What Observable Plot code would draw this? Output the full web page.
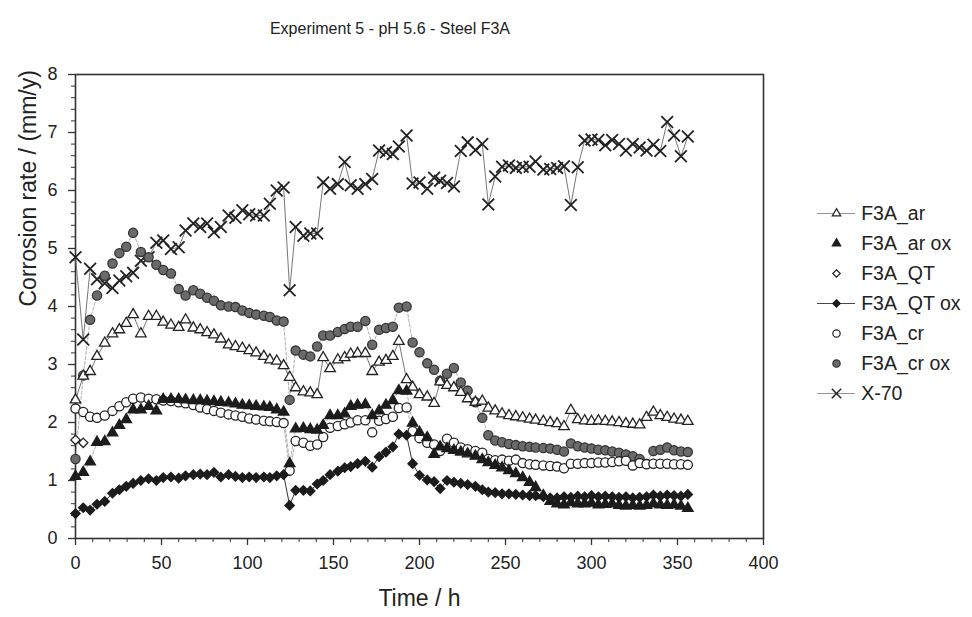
<!DOCTYPE html>
<html>
<head>
<meta charset="utf-8">
<script src="https://cdn.jsdelivr.net/npm/d3@7"></script>
<script src="https://cdn.jsdelivr.net/npm/@observablehq/plot@0.6"></script>
<style>
  body { margin: 0; background: #fff; }
  #wrap { position: relative; width: 972px; height: 617px; font-family: "Liberation Sans", Arial, Helvetica, sans-serif; color: #222; background: #fff; }
  #title { height: 50px; width: 780px; text-align: center; font-size: 16px; line-height: 57px; }
  #legend { position: absolute; left: 805px; top: 198px; }
</style>
</head>
<body>
<div id="wrap">
  <div id="title">Experiment 5 - pH 5.6 - Steel F3A</div>
  <div id="chart"></div>
  <div id="legend"></div>
</div>
<script>
// ---- data ----
const seriesNames = ["F3A_ar", "F3A_ar ox", "F3A_QT", "F3A_QT ox", "F3A_cr", "F3A_cr ox", "X-70"];

const timeH = [0,4.5,8.5,12.5,17,21.5,25.5,29.5,33.5,38,42.5,47,51,55.5,60,64,68.5,72.5,76.5,80.5,
  84.5,89,93,97,101,105,109.5,113,117,121,124.5,128,132.5,136.5,140.5,144,148,152.5,156.5,160,
  164,168.5,172.5,176.5,180.5,184.5,188,192.5,196,200,204.5,208.5,212,216,220,224,228,232.5,236.5,240,
  244,248,252,256,260,264,267.5,272,276,280,284,288,292,296,300,304,308,312,316,320,
  324,328,332,336,340,344,348,352,356];

const x70 = [4.85,3.43,4.65,4.47,4.40,4.32,4.45,4.52,4.58,4.79,
  4.85,5.10,5.14,4.99,5.02,5.31,5.43,5.37,5.43,5.28,
  5.37,5.57,5.53,5.66,5.59,5.57,5.57,5.77,6.00,6.05,
  4.28,5.37,5.22,5.26,5.26,6.14,6.03,6.11,6.49,6.09,
  6.03,6.11,6.20,6.69,6.66,6.63,6.76,6.95,6.12,6.14,
  6.03,6.22,6.17,6.13,6.07,6.68,6.83,6.70,6.80,5.76,
  6.24,6.41,6.43,6.39,6.41,6.41,6.50,6.36,6.37,6.39,
  6.42,5.75,6.40,6.86,6.88,6.87,6.78,6.87,6.80,6.69,
  6.80,6.74,6.69,6.79,6.68,7.18,6.95,6.59,6.93];

const f3aAr = [2.39,2.80,2.88,3.14,3.37,3.53,3.60,3.71,3.86,3.53,
  3.83,3.83,3.73,3.68,3.64,3.77,3.63,3.60,3.55,3.51,
  3.44,3.34,3.31,3.28,3.24,3.20,3.14,3.08,3.06,2.98,
  2.78,2.60,2.53,2.51,2.48,3.12,2.93,3.08,3.12,3.18,
  3.19,3.19,2.88,3.04,3.07,3.14,3.40,2.74,2.61,2.48,
  2.44,2.33,2.70,2.64,2.60,2.52,2.41,2.35,2.37,2.25,
  2.20,2.15,2.12,2.10,2.08,2.06,2.04,2.02,2.00,1.98,
  1.93,2.21,2.05,2.03,2.02,2.03,2.02,2.01,2.00,1.98,
  1.97,1.96,2.09,2.18,2.12,2.09,2.06,2.04,2.02];

const f3aArOx = [1.07,1.14,1.32,1.66,1.67,1.82,1.95,2.05,2.22,2.22,
  2.28,2.20,2.40,2.40,2.40,2.39,2.38,2.38,2.37,2.36,
  2.35,2.34,2.32,2.30,2.29,2.28,2.27,2.26,2.22,2.18,
  1.29,1.89,1.90,1.88,1.87,1.95,2.12,2.12,2.15,2.28,
  2.30,2.31,2.12,2.20,2.30,2.38,2.55,2.54,1.99,1.83,
  1.74,1.45,1.58,1.55,1.52,1.49,1.46,1.42,1.36,1.31,
  1.26,1.22,1.17,1.12,1.05,0.97,0.88,0.74,0.64,0.60,
  0.58,0.62,0.60,0.60,0.61,0.58,0.59,0.60,0.57,0.56,
  0.57,0.56,0.57,0.60,0.58,0.57,0.58,0.56,0.52];

const f3aQtTime = [0, 4.5];
const f3aQt = [1.70, 1.65];

const f3aQtOx = [0.43,0.53,0.49,0.59,0.64,0.78,0.84,0.90,0.95,1.00,
  1.03,1.00,1.05,1.06,1.04,1.08,1.10,1.11,1.10,1.14,
  1.06,1.10,1.07,1.05,1.06,1.05,1.06,1.05,1.08,1.10,
  0.57,0.83,0.83,0.82,0.94,1.00,1.10,1.16,1.22,1.24,
  1.29,1.33,1.23,1.41,1.49,1.58,1.80,1.78,1.29,1.09,
  1.01,0.98,0.86,1.00,0.97,0.95,0.93,0.90,0.84,0.80,
  0.79,0.77,0.77,0.76,0.75,0.74,0.74,0.72,0.70,0.70,
  0.72,0.71,0.73,0.72,0.74,0.72,0.73,0.72,0.71,0.72,
  0.70,0.71,0.72,0.75,0.73,0.75,0.74,0.73,0.76];

const f3aCr = [2.24,2.18,2.10,2.08,2.12,2.20,2.28,2.35,2.41,2.43,
  2.41,2.40,2.38,2.37,2.35,2.33,2.30,2.26,2.23,2.20,
  2.17,2.14,2.12,2.10,2.07,2.05,2.03,2.02,2.01,1.99,
  1.17,1.68,1.65,1.60,1.62,1.75,1.91,1.94,1.97,2.00,
  2.04,2.04,1.83,2.03,2.06,2.10,2.25,2.26,1.85,1.73,
  1.65,1.62,1.51,1.72,1.65,1.57,1.54,1.51,1.48,1.37,
  1.35,1.36,1.34,1.36,1.30,1.28,1.27,1.26,1.25,1.24,
  1.21,1.29,1.29,1.30,1.30,1.31,1.31,1.32,1.33,1.34,
  1.26,1.30,1.28,1.29,1.29,1.29,1.28,1.28,1.27];

const f3aCrOx = [1.37,2.81,3.77,4.19,4.53,4.74,4.92,5.03,5.27,4.94,
  4.85,4.72,4.63,4.57,4.30,4.19,4.28,4.22,4.15,4.10,
  4.02,4.00,3.99,3.93,3.89,3.86,3.84,3.82,3.76,3.74,
  2.39,3.24,3.17,3.14,3.31,3.50,3.50,3.56,3.61,3.65,
  3.65,3.75,3.34,3.60,3.63,3.65,3.98,4.00,3.38,3.21,
  3.02,2.91,2.72,2.84,2.94,2.69,2.55,2.35,2.08,1.78,
  1.69,1.66,1.63,1.61,1.59,1.58,1.57,1.56,1.55,1.53,
  1.50,1.64,1.59,1.57,1.55,1.53,1.52,1.50,1.48,1.45,
  1.42,1.37,1.29,1.51,1.53,1.57,1.52,1.50,1.49];

const xMajorTicks = [0, 50, 100, 150, 200, 250, 300, 350, 400];
const xMinorTicks = [10,20,30,40,60,70,80,90,110,120,130,140,160,170,180,190,210,220,230,240,
  260,270,280,290,310,320,330,340,360,370,380,390];
const yMajorTicks = [0, 1, 2, 3, 4, 5, 6, 7, 8];
const yMinorTicks = [0.2,0.4,0.6,0.8,1.2,1.4,1.6,1.8,2.2,2.4,2.6,2.8,3.2,3.4,3.6,3.8,
  4.2,4.4,4.6,4.8,5.2,5.4,5.6,5.8,6.2,6.4,6.6,6.8,7.2,7.4,7.6,7.8];

// ---- tables ----
const table = (times, vals) => times.map((t, i) => ({t, v: vals[i]}));
const dX70 = table(timeH, x70);
const dAr = table(timeH, f3aAr);
const dArOx = table(timeH, f3aArOx);
const dQt = table(f3aQtTime, f3aQt);
const dQtOx = table(timeH, f3aQtOx);
const dCr = table(timeH, f3aCr);
const dCrOx = table(timeH, f3aCrOx);

const ink = "#222";
const styles = {
  "F3A_ar":    {symbol: "triangle", fill: "#fff", stroke: ink, r: 3.9, line: "solid"},
  "F3A_ar ox": {symbol: "triangle", fill: "#1c1c1c", stroke: "#1c1c1c", r: 3.9, line: null},
  "F3A_QT":    {symbol: "diamond2", fill: "#fff", stroke: ink, r: 4.2, line: null},
  "F3A_QT ox": {symbol: "diamond2", fill: "#1c1c1c", stroke: "#1c1c1c", r: 4.2, line: "solid"},
  "F3A_cr":    {symbol: "circle", fill: "#fff", stroke: ink, r: 4.6, line: null},
  "F3A_cr ox": {symbol: "circle", fill: "#6a6a6a", stroke: "#333", r: 4.6, line: null},
  "X-70":      {symbol: "times", fill: "none", stroke: ink, r: 5.4, line: "solid"}
};
const dot = (data, name) => Plot.dot(data, {x: "t", y: "v", symbol: styles[name].symbol, r: styles[name].r,
  fill: styles[name].fill, stroke: styles[name].stroke, strokeWidth: name === "X-70" ? 1.8 : 1.3});

const chart = Plot.plot({
  width: 972, height: 567,
  marginTop: 24, marginBottom: 79, marginLeft: 75, marginRight: 209,
  style: {fontFamily: "'Liberation Sans', Arial, Helvetica, sans-serif", color: "#222", background: "#fff"},
  x: {domain: [0, 400]},
  y: {domain: [0, 8]},
  marks: [
    Plot.axisX({ticks: xMinorTicks, tickSize: 4, text: null, label: null, stroke: "#333"}),
    Plot.axisX({ticks: xMajorTicks, tickSize: 7, tickPadding: 11, fontSize: 18, label: null, stroke: "#333", strokeWidth: 1.3}),
    Plot.axisY({ticks: yMinorTicks, tickSize: 4, text: null, label: null, stroke: "#333"}),
    Plot.axisY({ticks: yMajorTicks, tickSize: 7, tickPadding: 11, fontSize: 18, label: null, stroke: "#333", strokeWidth: 1.3}),
    Plot.frame({stroke: "#333", strokeWidth: 1.6}),
    Plot.text(["Time / h"], {frameAnchor: "bottom", dy: 67, fontSize: 23, fill: "#222"}),
    Plot.text(["Corrosion rate / (mm/y)"], {frameAnchor: "left", dx: -47, rotate: -90, fontSize: 23, fill: "#222"}),
    // connecting lines
    Plot.line(dCrOx, {x: "t", y: "v", stroke: "#999", strokeWidth: 0.8, strokeDasharray: "3,2"}),
    Plot.line(dCr, {x: "t", y: "v", stroke: "#999", strokeWidth: 0.8, strokeDasharray: "3,2"}),
    Plot.line(dArOx, {x: "t", y: "v", stroke: "#999", strokeWidth: 0.8, strokeDasharray: "3,2"}),
    Plot.line(dX70, {x: "t", y: "v", stroke: "#666", strokeWidth: 0.9}),
    Plot.line(dAr, {x: "t", y: "v", stroke: "#666", strokeWidth: 0.9}),
    Plot.line(dQtOx, {x: "t", y: "v", stroke: "#333", strokeWidth: 1}),
    // markers
    dot(dX70, "X-70"),
    dot(dCrOx, "F3A_cr ox"),
    dot(dAr, "F3A_ar"),
    dot(dCr, "F3A_cr"),
    dot(dArOx, "F3A_ar ox"),
    dot(dQtOx, "F3A_QT ox"),
    dot(dQt, "F3A_QT")
  ]
});
document.getElementById("chart").appendChild(chart);

// ---- legend ----
const legendRows = seriesNames.map(name => ({name}));
const legendMarks = [];
for (const name of seriesNames) {
  const s = styles[name];
  if (s.line) legendMarks.push(Plot.ruleY([name], {x1: 0, x2: 1, y: d => d, stroke: name === "F3A_QT ox" ? "#333" : "#888", strokeWidth: 0.9}));
  legendMarks.push(Plot.dot([name], {x: 0.5, y: d => d, symbol: s.symbol, r: s.r * 0.8,
    fill: s.fill, stroke: s.stroke, strokeWidth: name === "X-70" ? 1.5 : 1.2}));
}
legendMarks.push(Plot.text(legendRows, {x: 1.15, y: "name", text: "name", textAnchor: "start", fontSize: 19.5, fill: "#222"}));
const legend = Plot.plot({
  width: 165, height: 212, margin: 0,
  style: {fontFamily: "'Liberation Sans', Arial, Helvetica, sans-serif", background: "transparent", overflow: "visible"},
  x: {domain: [0, 1], range: [12, 50], axis: null},
  y: {type: "point", domain: seriesNames, range: [15, 195], padding: 0, axis: null},
  marks: legendMarks
});
document.getElementById("legend").appendChild(legend);
</script>
</body>
</html>
